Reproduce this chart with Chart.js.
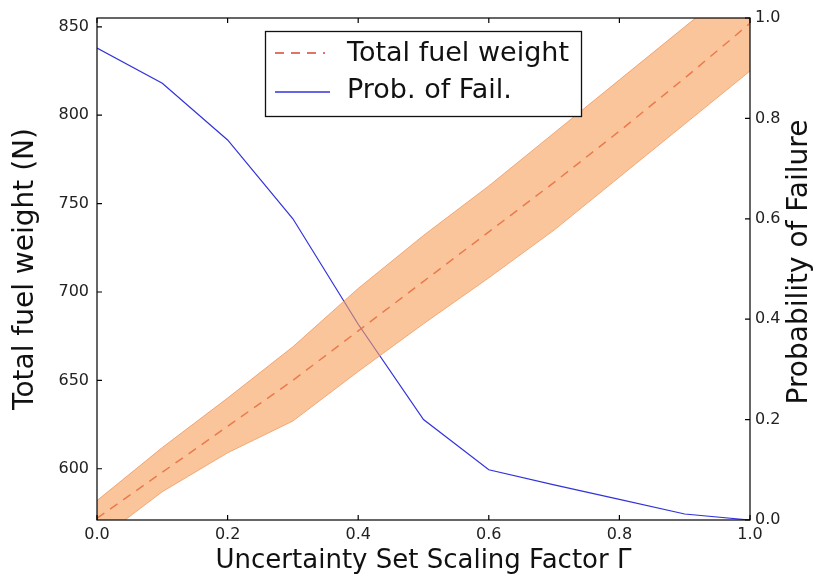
<!DOCTYPE html>
<html>
<head>
<meta charset="utf-8">
<title>Fuel weight vs. probability of failure</title>
<script src="https://cdn.jsdelivr.net/npm/chart.js@4.4.0/dist/chart.umd.min.js"></script>
<style>
  html, body { margin: 0; padding: 0; background: #fff; }
</style>
</head>
<body>
<canvas id="fuelChart" width="820" height="577"></canvas>
<script>
// uncertainty set scaling factor (x)
const gammaValues = [0.0, 0.1, 0.2, 0.3, 0.4, 0.5, 0.6, 0.7, 0.8, 0.9, 1.0]
// total fuel weight (N): mean and band limits
const fuelMean = [572, 598, 624, 650, 678, 706, 734, 762, 791, 821, 852]
const fuelUpper = [582, 612, 640, 669, 702, 732, 760, 790, 820, 850, 880]
const fuelLower = [559, 587, 609, 627, 655, 682, 708, 735, 765, 795, 825]
// probability of failure
const failProb = [0.94, 0.87, 0.757, 0.60, 0.39, 0.20, 0.10, 0.07, 0.041, 0.012, 0.0]

const gammaTicks = [0, 0.2, 0.4, 0.6, 0.8, 1.0]
const fuelTicks = [600, 650, 700, 750, 800, 850]
const probTicks = [0, 0.2, 0.4, 0.6, 0.8, 1.0]

const FONT = 'DejaVu Sans'
const meanColor = 'rgba(210, 42, 32, 0.88)'
const probColor = 'rgb(50, 50, 220)'
const meanDash = [9, 7]

const toPoints = ys => gammaValues.map((g, i) => ({ x: g, y: ys[i] }))
const setTicks = list => scale => { scale.ticks = list.map(v => ({ value: v })) }

// box around the axes, inward tick marks, legend and right-hand label
const frame = {
  id: 'frame',
  afterDatasetsDraw(chart) {
    const { ctx, chartArea: a, scales } = chart
    ctx.save()
    ctx.strokeStyle = '#000'
    ctx.lineWidth = 1.2
    ctx.strokeRect(a.left, a.top, a.right - a.left, a.bottom - a.top)
    ctx.beginPath()
    scales.yFuel.ticks.forEach(t => {
      const y = scales.yFuel.getPixelForValue(t.value)
      ctx.moveTo(a.left, y); ctx.lineTo(a.left + 5, y)
    })
    scales.yProb.ticks.forEach(t => {
      const y = scales.yProb.getPixelForValue(t.value)
      ctx.moveTo(a.right, y); ctx.lineTo(a.right - 5, y)
    })
    scales.x.ticks.forEach(t => {
      const x = scales.x.getPixelForValue(t.value)
      ctx.moveTo(x, a.bottom); ctx.lineTo(x, a.bottom - 5)
      ctx.moveTo(x, a.top); ctx.lineTo(x, a.top + 5)
    })
    ctx.stroke()
    ctx.restore()
  },
  afterDraw(chart) {
    const { ctx, chartArea: a } = chart
    ctx.save()
    // legend
    ctx.fillStyle = '#fff'
    ctx.fillRect(265, 31, 317, 86)
    ctx.strokeStyle = '#111'
    ctx.lineWidth = 1.3
    ctx.strokeRect(265.5, 31.5, 316, 85)

    ctx.lineWidth = 1.3
    ctx.strokeStyle = meanColor
    ctx.setLineDash(meanDash)
    ctx.beginPath(); ctx.moveTo(275, 53); ctx.lineTo(325, 53); ctx.stroke()
    ctx.setLineDash([])
    ctx.strokeStyle = probColor
    ctx.beginPath(); ctx.moveTo(275, 92); ctx.lineTo(330, 92); ctx.stroke()

    ctx.fillStyle = '#111'
    ctx.font = `27px "${FONT}"`
    ctx.textAlign = 'left'
    ctx.textBaseline = 'middle'
    ctx.fillText('Total fuel weight', 347, 54)
    ctx.fillText('Prob. of Fail.', 347, 91)

    // right axis title, reading upwards like the left one
    ctx.font = `28px "${FONT}"`
    ctx.translate(800, (a.top + a.bottom) / 2 - 7)
    ctx.rotate(-Math.PI / 2)
    ctx.textAlign = 'center'
    ctx.fillText('Probability of Failure', 0, 0)
    ctx.restore()
  }
}

new Chart(document.getElementById('fuelChart'), {
  type: 'line',
  data: {
    datasets: [
      {
        label: 'upper',
        data: toPoints(fuelUpper),
        yAxisID: 'yFuel',
        borderColor: 'rgba(236, 145, 90, 0.75)',
        borderWidth: 1,
        backgroundColor: 'rgba(247, 158, 88, 0.6)',
        fill: '+1',
      },
      {
        label: 'lower',
        data: toPoints(fuelLower),
        yAxisID: 'yFuel',
        borderColor: 'rgba(236, 145, 90, 0.75)',
        borderWidth: 1,
        fill: false,
      },
      {
        label: 'Total fuel weight',
        data: toPoints(fuelMean),
        yAxisID: 'yFuel',
        borderColor: meanColor,
        borderDash: meanDash,
        borderWidth: 1.5,
        fill: false,
      },
      {
        label: 'Prob. of Fail.',
        data: toPoints(failProb),
        yAxisID: 'yProb',
        borderColor: probColor,
        borderWidth: 1.2,
        fill: false,
      },
    ],
  },
  options: {
    responsive: false,
    animation: false,
    events: [],
    layout: { padding: { top: 18, left: 0, right: 0, bottom: 0 } },
    elements: { point: { radius: 0 }, line: { tension: 0 } },
    plugins: { legend: { display: false }, tooltip: { enabled: false } },
    scales: {
      x: {
        type: 'linear',
        position: 'bottom',
        min: 0,
        max: 1,
        grid: { display: false, drawTicks: false },
        border: { display: false },
        afterBuildTicks: setTicks(gammaTicks),
        afterFit: s => { s.height = 57 },
        ticks: {
          autoSkip: false,
          maxRotation: 0,
          padding: 5,
          color: '#222',
          font: { family: FONT, size: 16 },
          callback: v => v.toFixed(1),
        },
        title: {
          display: true,
          text: 'Uncertainty Set Scaling Factor Γ',
          color: '#111',
          font: { family: FONT, size: 26 },
          padding: { top: 0, bottom: 0 },
        },
      },
      yFuel: {
        type: 'linear',
        position: 'left',
        min: 571,
        max: 855,
        grid: { display: false, drawTicks: false },
        border: { display: false },
        afterBuildTicks: setTicks(fuelTicks),
        afterFit: s => { s.width = 97 },
        ticks: {
          padding: 8,
          color: '#222',
          font: { family: FONT, size: 16 },
          callback: v => String(v),
        },
        title: {
          display: true,
          text: 'Total fuel weight (N)',
          color: '#111',
          font: { family: FONT, size: 28 },
          padding: { top: 9, bottom: 0 },
        },
      },
      yProb: {
        type: 'linear',
        position: 'right',
        min: 0,
        max: 1,
        grid: { display: false, drawTicks: false },
        border: { display: false },
        afterBuildTicks: setTicks(probTicks),
        afterFit: s => { s.width = 70 },
        ticks: {
          padding: 5,
          color: '#222',
          font: { family: FONT, size: 16 },
          callback: v => v.toFixed(1),
        },
      },
    },
  },
  plugins: [frame],
})
</script>
</body>
</html>
